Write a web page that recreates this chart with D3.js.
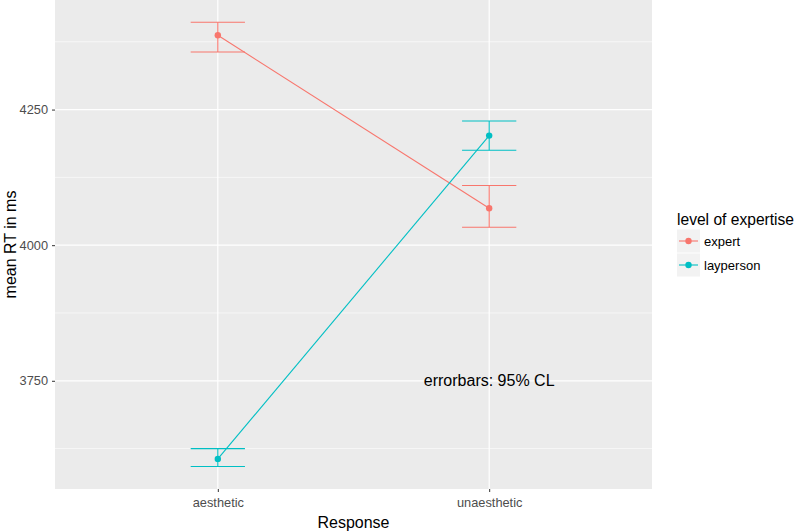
<!DOCTYPE html>
<html><head><meta charset="utf-8">
<script src="https://cdn.jsdelivr.net/npm/d3@7"></script>
<style>body{margin:0;background:#fff}svg{display:block;font-family:"Liberation Sans",Arial,sans-serif}</style>
</head><body><svg id="c" width="796" height="532"></svg>
<script>
const categories = ["aesthetic", "unaesthetic"];
const groups = ["expert", "layperson"];
const colors = ["#F8766D", "#00BFC4"];
const expertMean = [4387, 4068];
const expertLow = [4356, 4033];
const expertHigh = [4411, 4110];
const laypersonMean = [3606, 4202];
const laypersonLow = [3592, 4175];
const laypersonHigh = [3625, 4229];
const yTicks = [3750, 4000, 4250];
const yMinor = [3625, 3875, 4125, 4375];

const series = [
  {name: groups[0], color: colors[0], mean: expertMean, lo: expertLow, hi: expertHigh},
  {name: groups[1], color: colors[1], mean: laypersonMean, lo: laypersonLow, hi: laypersonHigh}
];

const svg = d3.select("#c");
const P = {l: 55, r: 652, t: 0, b: 489};
const x = d3.scaleLinear().domain([0.4, 2.6]).range([P.l, P.r]);
const y = d3.scaleLinear().domain([3550.5, 4452]).range([P.b, P.t]);
const xi = i => x(i + 1);
const FF = "Liberation Sans, Arial, sans-serif";

svg.append("rect").attr("x", P.l).attr("y", P.t).attr("width", P.r - P.l).attr("height", P.b - P.t).attr("fill", "#EBEBEB");
const g = svg.append("g");
yMinor.forEach(v => g.append("line").attr("x1", P.l).attr("x2", P.r).attr("y1", y(v)).attr("y2", y(v)).attr("stroke", "#fff").attr("stroke-width", 0.6));
yTicks.forEach(v => g.append("line").attr("x1", P.l).attr("x2", P.r).attr("y1", y(v)).attr("y2", y(v)).attr("stroke", "#fff").attr("stroke-width", 1.2));
categories.forEach((c, i) => g.append("line").attr("x1", xi(i)).attr("x2", xi(i)).attr("y1", P.t).attr("y2", P.b).attr("stroke", "#fff").attr("stroke-width", 1.2));

// axes
const yAxis = d3.axisLeft(y).tickValues(yTicks).tickFormat(d3.format("d")).tickSize(3).tickPadding(4);
const ya = svg.append("g").attr("transform", `translate(${P.l},0)`).call(yAxis);
ya.select(".domain").remove();
ya.selectAll("line").attr("stroke", "#333");
ya.selectAll("text").attr("fill", "#4D4D4D").attr("font-size", 12.8).attr("font-family", FF);

const xAxis = d3.axisBottom(d3.scaleOrdinal().domain(categories).range(categories.map((c, i) => xi(i)))).tickSize(3).tickPadding(6);
const xa = svg.append("g").attr("transform", `translate(0,${P.b})`).call(xAxis);
xa.select(".domain").remove();
xa.selectAll("line").attr("stroke", "#333");
xa.selectAll("text").attr("fill", "#4D4D4D").attr("font-size", 12.8).attr("font-family", FF);

// series
const ew = x(1.1) - x(1);
series.forEach(s => {
  const line = d3.line().x((d, i) => xi(i)).y(d => y(d));
  g.append("path").attr("d", line(s.mean)).attr("fill", "none").attr("stroke", s.color).attr("stroke-width", 1.1);
  s.mean.forEach((m, i) => {
    const cx = xi(i);
    g.append("line").attr("x1", cx).attr("x2", cx).attr("y1", y(s.lo[i])).attr("y2", y(s.hi[i])).attr("stroke", s.color).attr("stroke-width", 1.1);
    g.append("line").attr("x1", cx - ew).attr("x2", cx + ew).attr("y1", y(s.lo[i])).attr("y2", y(s.lo[i])).attr("stroke", s.color).attr("stroke-width", 1.1);
    g.append("line").attr("x1", cx - ew).attr("x2", cx + ew).attr("y1", y(s.hi[i])).attr("y2", y(s.hi[i])).attr("stroke", s.color).attr("stroke-width", 1.1);
    g.append("circle").attr("cx", cx).attr("cy", y(m)).attr("r", 3.2).attr("fill", s.color);
  });
});

// annotation
svg.append("text").attr("x", xi(1)).attr("y", y(3750)).attr("dy", "0.35em").attr("text-anchor", "middle").attr("font-size", 16).attr("fill", "#000").text("errorbars: 95% CL");

// axis titles
svg.append("text").attr("x", (P.l + P.r) / 2).attr("y", 528).attr("text-anchor", "middle").attr("font-size", 16).attr("fill", "#000").text("Response");
svg.append("text").attr("transform", `translate(15.5,${(P.t + P.b) / 2}) rotate(-90)`).attr("text-anchor", "middle").attr("font-size", 16).attr("fill", "#000").text("mean RT in ms");

// legend
const L = svg.append("g");
L.append("text").attr("x", 677).attr("y", 225).attr("font-size", 15.6).attr("fill", "#000").text("level of expertise");
series.forEach((s, i) => {
  const ky = 229.5 + i * 24;
  L.append("rect").attr("x", 677).attr("y", ky).attr("width", 23).attr("height", 23).attr("fill", "#F2F2F2");
  L.append("line").attr("x1", 679).attr("x2", 698).attr("y1", ky + 11.5).attr("y2", ky + 11.5).attr("stroke", s.color).attr("stroke-width", 1.1);
  L.append("circle").attr("cx", 688.5).attr("cy", ky + 11.5).attr("r", 3.2).attr("fill", s.color);
  L.append("text").attr("x", 704).attr("y", ky + 11.5).attr("dy", "0.35em").attr("font-size", 13).attr("fill", "#000").text(s.name);
});
</script></body></html>
